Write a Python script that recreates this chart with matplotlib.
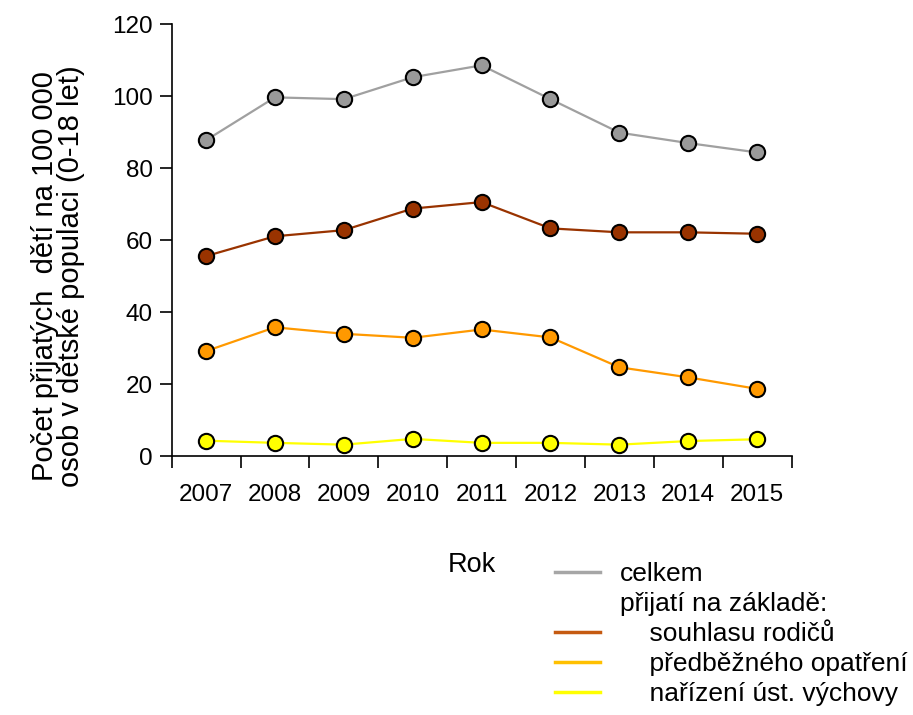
import matplotlib.pyplot as plt
from matplotlib.lines import Line2D
import numpy as np

plt.rcParams['font.family'] = ['Liberation Sans', 'DejaVu Sans']

# Datos
roky = ['2007', '2008', '2009', '2010', '2011', '2012', '2013', '2014', '2015']
celkem = [87.8, 99.7, 99.2, 105.3, 108.6, 99.2, 89.9, 87.0, 84.4]
souhlas = [55.6, 61.1, 62.8, 68.8, 70.6, 63.3, 62.2, 62.2, 61.8]
predbezne = [29.2, 35.8, 34.0, 32.9, 35.2, 33.0, 24.7, 21.9, 18.7]
narizeni = [4.3, 3.7, 3.2, 4.8, 3.7, 3.7, 3.2, 4.2, 4.7]

fig = plt.figure(figsize=(9.13, 7.15), dpi=100)
ax = fig.add_axes([0.188, 0.362, 0.679, 0.604])

x = np.arange(len(roky))
serie = [
    (celkem, '#a0a0a0', '#999999'),
    (souhlas, '#993300', '#993300'),
    (predbezne, '#ff9900', '#ff9900'),
    (narizeni, '#ffff00', '#ffff00'),
]
for vals, col_linea, col_marca in serie:
    ax.plot(x, vals, color=col_linea, lw=1.6, marker='o', markersize=11,
            markerfacecolor=col_marca, markeredgecolor='black', markeredgewidth=1.5,
            zorder=3, clip_on=False)

ax.set_xlim(-0.5, len(roky) - 0.5)
ax.set_ylim(0, 120)
ax.set_yticks(range(0, 121, 20))
ax.set_xticks(np.arange(-0.5, len(roky), 1.0))
ax.set_xticklabels([])
ax.set_xticks(x, minor=True)
ax.set_xticklabels(roky, minor=True)
ax.tick_params(axis='x', which='minor', length=0, pad=20, labelsize=17.5)
ax.tick_params(axis='x', which='major', length=8.5, width=1.2, direction='out')
ax.tick_params(axis='y', length=8.5, width=1.2, labelsize=17.5, pad=5)

for lado in ['top', 'right']:
    ax.spines[lado].set_visible(False)
for lado in ['left', 'bottom']:
    ax.spines[lado].set_linewidth(1.2)

# popisek osy y jako text figury (je posunutý dolů vůči ose)
fig.text(58 / 913, 1 - 276 / 715,
         'Počet přijatých  dětí na 100 000\nosob v dětské populaci (0-18 let)',
         fontsize=21, rotation=90, ha='center', va='center', linespacing=0.95)

fig.text(472 / 913, 1 - 565 / 715, 'Rok', fontsize=19.5, ha='center', va='center')

handles = [
    Line2D([], [], color='#a6a6a6', lw=2.5),
    Line2D([], [], color='none'),
    Line2D([], [], color='#c55a11', lw=2.5),
    Line2D([], [], color='#ffc000', lw=2.5),
    Line2D([], [], color='#ffff00', lw=2.5),
]
labels = ['celkem', 'přijatí na základě:', '    souhlasu rodičů',
          '    předběžného opatření', '    nařízení úst. výchovy']
fig.legend(handles, labels, loc='upper left', bbox_to_anchor=(555 / 913, 1 - 562 / 715),
           frameon=False, fontsize=19, handlelength=1.7, handletextpad=0.76,
           labelspacing=0.23, borderpad=0, borderaxespad=0)

plt.savefig('out.png', dpi=100)
